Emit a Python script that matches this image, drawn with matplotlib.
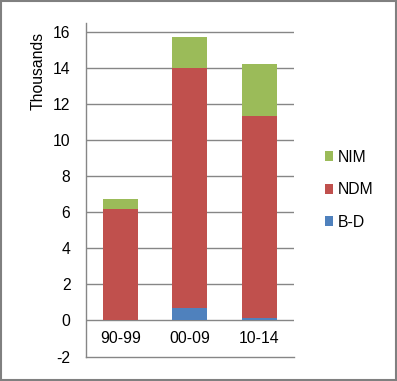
import matplotlib
matplotlib.use("Agg")
import matplotlib.pyplot as plt
from matplotlib.patches import Rectangle
import numpy as np

categories = ["90-99", "00-09", "10-14"]
bd = [0.0, 0.70, 0.14]
ndm = [6.18, 13.32, 11.21]
nim = [0.56, 1.72, 2.89]
yticks = [-2, 0, 2, 4, 6, 8, 10, 12, 14, 16]

plt.rcParams['font.family'] = ['Liberation Sans', 'DejaVu Sans']
FS = 11.3

fig = plt.figure(figsize=(3.97, 3.81), dpi=100)
ax = fig.add_axes([0.2159, 0.0643, 0.524, 0.8745])

x = np.arange(len(categories))
bd_a = np.array(bd); ndm_a = np.array(ndm); nim_a = np.array(nim)
w = 0.505
grid_c = '#868686'
for yv in yticks:
    if yv != -2:
        ax.axhline(yv, color=grid_c, lw=1.0, zorder=1)

b1 = ax.bar(x, bd_a, w, color='#4F81BD', zorder=2, label='B-D')
b2 = ax.bar(x, ndm_a, w, bottom=bd_a, color='#C0504D', zorder=2, label='NDM')
b3 = ax.bar(x, nim_a, w, bottom=bd_a + ndm_a, color='#9BBB59', zorder=2, label='NIM')

ax.set_xlim(-0.5, 2.5)
ax.set_ylim(-2, 16.5)
ax.set_yticks(yticks)
ax.set_yticklabels([str(v) for v in yticks], fontsize=FS, color='#000000')
ax.tick_params(axis='y', length=0, pad=11)
ax.set_xticks([])
for xi, c in zip(x, categories):
    ax.text(xi, -1.0, c, ha='center', va='center', fontsize=FS)

for s in ['top', 'right']:
    ax.spines[s].set_visible(False)
ax.spines['left'].set_color(grid_c)
ax.spines['bottom'].set_color(grid_c)
ax.spines['left'].set_linewidth(1.0)
ax.spines['bottom'].set_linewidth(1.0)

ax.set_ylabel('Thousands', fontsize=FS, va='center', ha='center')
ax.yaxis.set_label_coords(-0.228, 0.857)

leg = fig.legend(handles=[b3, b2, b1], labels=['NIM', 'NDM', 'B-D'],
                 loc='center left', bbox_to_anchor=(0.818, 0.502),
                 frameon=False, fontsize=FS, handlelength=0.55, handleheight=0.6,
                 handletextpad=0.3, labelspacing=1.12, borderaxespad=0, borderpad=0)

fig.patches.append(Rectangle((0.003, 0.003), 0.994, 0.994, transform=fig.transFigure,
                             fill=False, edgecolor='#808080', lw=1.5))

fig.savefig('out.png', dpi=100)
